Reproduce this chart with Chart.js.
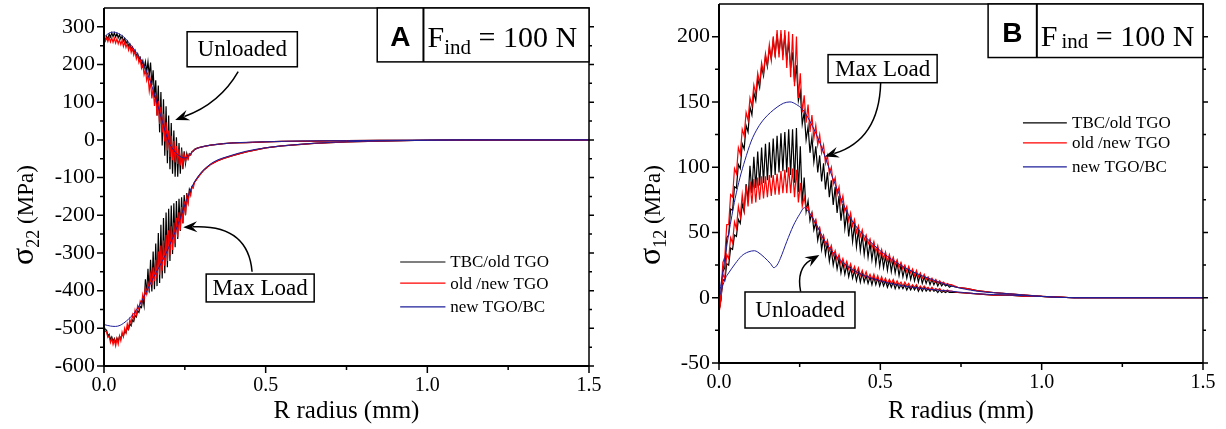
<!DOCTYPE html>
<html>
<head>
<meta charset="utf-8">
<script src="https://cdn.jsdelivr.net/npm/chart.js@4/dist/chart.umd.min.js"></script>
<style>
  html, body { margin: 0; padding: 0; background: #fff; }
  #wrap { position: relative; width: 1226px; height: 429px; }
  #wrap canvas { position: absolute; top: 0; }
  #cA { left: 0; }
  #cB { left: 610px; }
</style>
</head>
<body>
<div id="wrap">
  <canvas id="cA" width="610" height="429"></canvas>
  <canvas id="cB" width="616" height="429"></canvas>
</div>
<script>
// sigma22 / sigma12 along the interface, F_ind = 100 N
const SERIES = ['TBC/old TGO', 'old /new TGO', 'new TGO/BC'];
const COLORS = ['#000000', '#ff0000', '#1e1e9a'];
const R_TICKS = [0, 0.5, 1.0, 1.5];
const A_Y_TICKS = [-600, -500, -400, -300, -200, -100, 0, 100, 200, 300];
const B_Y_TICKS = [-50, 0, 50, 100, 150, 200];

// ---- panel A : sigma22 (MPa), FE nodes every 0.004 mm up to 0.28 mm ----
const A_STEP = 0.004;
const A_UNL_TBC = [270,264,275,268,281,273,284,274,284,273,282,271,279,268,275,262,269,256,262,249,
  254,241,246,231,237,222,228,213,219,200,210,190,208,180,207,172,205,145,185,112,
  158,65,144,20,127,-15,108,-42,89,-62,65,-78,45,-90,25,-98,7,-98,-8,-90,
  -20,-78,-30,-63,-36,-50,-37,-40,-31,-29,-25];
const A_UNL_OLD = [270,262,271,261,272,260,271,259,270,257,268,255,266,253,264,248,260,245,256,238,
  250,232,244,225,236,215,227,205,214,190,200,173,186,158,172,130,156,110,138,90,
  120,64,104,42,88,20,69,-4,47,-28,25,-45,11,-54,-3,-60,-16,-64,-25,-68,
  -35,-66,-40,-58,-41,-50,-37,-40,-31,-30,-26];
const A_MAX_TBC = [-495,-503,-505,-520,-516,-530,-523,-535,-527,-538,-526,-535,-521,-528,-515,-521,-507,-512,-498,-503,
  -488,-493,-478,-482,-466,-470,-454,-458,-442,-445,-420,-440,-370,-410,-342,-405,-318,-402,-296,-396,
  -275,-388,-247,-380,-225,-368,-207,-354,-193,-338,-183,-321,-174,-303,-168,-285,-162,-263,-156,-242,
  -152,-221,-146,-200,-141,-165,-131,-140,-123,-120,-112];
const A_MAX_OLD = [-500,-508,-510,-524,-520,-538,-527,-543,-531,-547,-528,-542,-520,-533,-510,-522,-500,-512,-488,-500,
  -476,-488,-464,-476,-452,-464,-440,-450,-428,-436,-410,-423,-392,-408,-380,-398,-358,-385,-338,-375,
  -318,-368,-296,-358,-280,-347,-267,-334,-252,-321,-240,-306,-229,-292,-219,-275,-207,-258,-192,-240,
  -178,-222,-163,-200,-152,-168,-138,-148,-125,-128,-113];
const A_TAIL_R = [0.29, 0.30, 0.31, 0.33, 0.35, 0.37, 0.40, 0.44, 0.50, 0.55, 0.65, 0.75, 0.85, 1.0, 1.2, 1.5];
const A_TAIL_UNL = [-21, -19, -17, -14, -12, -10, -8, -7, -5, -4, -3, -2, -1, -1, 0, 0];
const A_TAIL_MAX = [-100, -89, -79, -65, -56, -49, -41, -32, -21, -16, -9, -5, -3, -1, 0, 0];
const A_BC_UNL_R = [0, 0.01, 0.02, 0.03, 0.04, 0.06, 0.08, 0.10, 0.12, 0.14, 0.16, 0.18, 0.20, 0.22, 0.24, 0.25,
  0.26, 0.27, 0.28, 0.30, 0.33, 0.37, 0.42, 0.5, 0.6, 0.75, 0.9, 1.1, 1.5];
const A_BC_UNL = [272, 280, 285, 286, 284, 274, 255, 232, 205, 163, 110, 50, -5, -32, -46, -48,
  -44, -35, -27, -19, -14, -10, -7, -5, -3, -2, -1, 0, 0];
const A_BC_MAX_R = [0, 0.02, 0.035, 0.05, 0.07, 0.09, 0.11, 0.13, 0.15, 0.17, 0.19, 0.21, 0.23, 0.25,
  0.27, 0.29, 0.31, 0.34, 0.39, 0.44, 0.5, 0.55, 0.65, 0.75, 0.85, 1.0, 1.2, 1.5];
const A_BC_MAX = [-490, -494, -495, -492, -480, -463, -438, -405, -370, -338, -305, -265, -222, -172,
  -128, -98, -78, -58, -42, -30, -21, -16, -9, -5, -3, -1, 0, 0];

// ---- panel B : sigma12 (MPa), FE nodes every 0.006 mm up to 0.72 mm ----
const B_STEP = 0.006;
const B_MAX_TBC = [-10,-1,20,23,46,48,68,67,85,84,102,99,118,114,132,127,146,140,157,151,
  168,161,177,170,185,177,191,183,197,186,202,187,202,186,201,182,196,176,188,165,
  178,151,158,133,142,121,131,111,123,104,116,96,109,89,103,83,96,77,90,71,
  85,65,78,59,72,53,65,47,60,43,56,39,52,36,48,33,45,31,42,29,
  40,26,37,24,34,23,32,21,31,20,29,19,27,17,25,16,23,15,22,14,
  20,13,19,12,18,11,16,11,15,10,14,10,13,9,12,9,11,9,10,8,9];
const B_MAX_OLD = [-10,2,27,31,56,56,79,77,99,95,115,110,129,124,142,136,153,147,163,156,
  172,164,180,172,187,178,194,182,200,184,205,184,205,182,205,176,204,169,202,162,
  200,153,172,142,155,134,148,127,140,122,132,117,125,111,117,103,109,95,100,87,
  92,79,85,72,78,66,70,59,65,55,60,50,55,47,52,44,48,41,45,38,
  43,35,40,32,37,30,35,28,33,27,31,25,29,23,27,22,25,20,24,19,
  22,17,21,16,19,15,18,14,16,13,15,12,14,11,13,11,12,10,11,10,10];
const B_UNL_TBC = [-10,-1,14,13,26,25,38,37,48,47,60,57,72,66,87,75,101,80,108,84,
  112,86,115,88,118,90,119,92,122,94,124,96,126,97,127,96,129,94,129,88,
  130,81,116,72,92,66,74,59,65,52,58,44,52,37,46,33,42,28,37,25,
  33,22,30,19,27,18,25,16,23,15,21,13,20,12,19,12,17,11,16,10,
  16,10,15,9,14,9,13,8,12,8,12,7,11,7,10,7,10,6,9,6,
  9,6,9,5,8,5,8,5,7,5,7,5,6,4,6,4,5,4,5,4,4];
const B_UNL_OLD = [-12,-2,18,15,33,30,46,42,58,53,70,62,79,67,86,70,89,72,91,73,
  92,75,93,76,93,77,94,78,94,79,95,79,97,80,98,80,100,80,99,77,
  98,73,88,70,77,68,70,63,65,57,60,52,54,45,48,40,44,36,40,32,
  36,29,33,26,30,24,28,22,26,20,24,19,23,17,21,16,20,15,18,14,
  18,13,17,12,16,12,15,11,14,11,14,10,13,10,12,9,12,9,11,8,
  10,8,10,7,9,7,9,7,8,6,8,6,7,6,7,5,6,5,6,5,5];
const B_TAIL_R = [0.74, 0.77, 0.80, 0.85, 0.90, 0.95, 1.0, 1.05, 1.1, 1.2, 1.5];
const B_TAIL_MAX = [8, 7, 5.5, 4, 3, 2, 1, 0.5, 0, 0, 0];
const B_TAIL_UNL = [4, 3.5, 3, 2, 2, 1, 1, 0.5, 0, 0, 0];
const B_BC_MAX_R = [0, 0.01, 0.02, 0.03, 0.04, 0.05, 0.065, 0.08, 0.10, 0.12, 0.14, 0.16, 0.18, 0.20, 0.22, 0.24,
  0.26, 0.28, 0.30, 0.32, 0.34, 0.36, 0.38, 0.40, 0.43, 0.46, 0.50, 0.55, 0.60, 0.66, 0.72, 0.80, 0.90, 1.0, 1.1, 1.5];
const B_BC_MAX = [0, 17, 33, 49, 63, 76, 92, 105, 120, 130, 137, 142, 146, 149, 150, 148,
  144, 136, 126, 114, 100, 87, 75, 64, 53, 45, 36, 27, 20, 14, 9, 5, 3, 1, 0, 0];
const B_BC_UNL_R = [0, 0.01, 0.02, 0.03, 0.05, 0.07, 0.09, 0.11, 0.12, 0.14, 0.16, 0.17, 0.18, 0.19, 0.21, 0.23,
  0.25, 0.265, 0.28, 0.30, 0.32, 0.34, 0.36, 0.38, 0.41, 0.45, 0.50, 0.55, 0.60, 0.65, 0.72, 0.80, 0.90, 1.0, 1.1, 1.5];
const B_BC_UNL = [0, 8, 15, 19, 26, 32, 35, 36, 35, 31, 26, 23, 25, 30, 43, 55,
  64, 69, 65, 57, 47, 39, 33, 28, 22, 17, 13, 10, 8, 6.5, 5, 3, 2, 1, 0, 0];

const SERIF = "'Liberation Serif', 'Times New Roman', serif";
const SANS = "'Liberation Sans', Arial, sans-serif";

function onGrid(step, vals) { return vals.map((v, i) => ({ x: +(i * step).toFixed(4), y: v })); }
function pairs(rs, vals) { return rs.map((r, i) => ({ x: r, y: vals[i] })); }
function curve(points, k, smooth) {
  return {
    label: SERIES[k], data: points, showLine: true, fill: false,
    borderColor: COLORS[k], backgroundColor: COLORS[k],
    borderWidth: k === 2 ? 1 : 1.2, pointRadius: 0, tension: 0,
    cubicInterpolationMode: smooth ? 'monotone' : 'default'
  };
}

// first dataset is painted last, so blue sits on top of red on top of black
const dsA = [
  curve(pairs(A_BC_UNL_R, A_BC_UNL), 2, true),
  curve(pairs(A_BC_MAX_R, A_BC_MAX), 2, true),
  curve(onGrid(A_STEP, A_UNL_OLD).concat(pairs(A_TAIL_R, A_TAIL_UNL)), 1),
  curve(onGrid(A_STEP, A_MAX_OLD).concat(pairs(A_TAIL_R, A_TAIL_MAX)), 1),
  curve(onGrid(A_STEP, A_UNL_TBC).concat(pairs(A_TAIL_R, A_TAIL_UNL)), 0),
  curve(onGrid(A_STEP, A_MAX_TBC).concat(pairs(A_TAIL_R, A_TAIL_MAX)), 0)
];
const dsB = [
  curve(pairs(B_BC_MAX_R, B_BC_MAX), 2, true),
  curve(pairs(B_BC_UNL_R, B_BC_UNL), 2, true),
  curve(onGrid(B_STEP, B_MAX_OLD).concat(pairs(B_TAIL_R, B_TAIL_MAX)), 1),
  curve(onGrid(B_STEP, B_UNL_OLD).concat(pairs(B_TAIL_R, B_TAIL_UNL)), 1),
  curve(onGrid(B_STEP, B_MAX_TBC).concat(pairs(B_TAIL_R, B_TAIL_MAX)), 0),
  curve(onGrid(B_STEP, B_UNL_TBC).concat(pairs(B_TAIL_R, B_TAIL_UNL)), 0)
];

function yTitle(ctx, bx, cy, sub) {
  const parts = [['σ', '32px ' + SERIF, 0], [sub, '18px ' + SERIF, 6], [' (MPa)', '23px ' + SERIF, 0]];
  ctx.save();
  ctx.translate(bx, cy);
  ctx.rotate(-Math.PI / 2);
  let w = 0;
  parts.forEach(p => { ctx.font = p[1]; p.push(ctx.measureText(p[0]).width); w += p[3]; });
  let cx = -w / 2;
  ctx.textAlign = 'left'; ctx.textBaseline = 'alphabetic';
  parts.forEach(p => { ctx.font = p[1]; ctx.fillText(p[0], cx, p[2]); cx += p[3]; });
  ctx.restore();
}

function arrow(ctx, P, a) {
  const [sx, sy] = P(a.s), [cx, cy] = P(a.c), [ex, ey] = P(a.e);
  const ang = Math.atan2(ey - cy, ex - cx), L = 14, W = 5.5;
  const co = Math.cos(ang), si = Math.sin(ang);
  ctx.lineWidth = 1.5;
  ctx.beginPath();
  ctx.moveTo(sx, sy);
  ctx.quadraticCurveTo(cx, cy, ex - L * 0.7 * co, ey - L * 0.7 * si);
  ctx.stroke();
  ctx.beginPath();
  ctx.moveTo(ex, ey);
  ctx.lineTo(ex - L * co + W * si, ey - L * si - W * co);
  ctx.lineTo(ex - L * 0.65 * co, ey - L * 0.65 * si);
  ctx.lineTo(ex - L * co - W * si, ey - L * si + W * co);
  ctx.closePath();
  ctx.fill();
}

function decor(o) {
  return {
    id: 'decor',
    afterDatasetsDraw(chart) {
      const { ctx, chartArea: a, scales: { x, y } } = chart;
      const P = p => [x.getPixelForValue(p[0]), y.getPixelForValue(p[1])];
      const mids = t => t.slice(1).map((v, i) => (v + t[i]) / 2);
      ctx.save();
      ctx.strokeStyle = '#000'; ctx.fillStyle = '#000';

      // frame
      ctx.lineWidth = 1.5;
      ctx.beginPath(); ctx.moveTo(a.left, a.top); ctx.lineTo(a.right, a.top); ctx.lineTo(a.right, a.bottom); ctx.stroke();
      ctx.lineWidth = 2;
      ctx.beginPath(); ctx.moveTo(a.left, a.top); ctx.lineTo(a.left, a.bottom); ctx.lineTo(a.right, a.bottom); ctx.stroke();

      // tick marks, major and minor
      ctx.lineWidth = 1.5;
      ctx.beginPath();
      R_TICKS.forEach(t => { const p = x.getPixelForValue(t); ctx.moveTo(p, a.bottom); ctx.lineTo(p, a.bottom + 7); });
      mids(R_TICKS).forEach(t => { const p = x.getPixelForValue(t); ctx.moveTo(p, a.bottom); ctx.lineTo(p, a.bottom + 4); });
      o.yTicks.forEach(t => {
        const p = y.getPixelForValue(t);
        ctx.moveTo(a.left, p); ctx.lineTo(a.left - 7, p);
        ctx.moveTo(a.right, p); ctx.lineTo(a.right + 5, p);
      });
      mids(o.yTicks).forEach(t => {
        const p = y.getPixelForValue(t);
        ctx.moveTo(a.left, p); ctx.lineTo(a.left - 4, p);
        ctx.moveTo(a.right, p); ctx.lineTo(a.right + 3, p);
      });
      ctx.stroke();

      // axis titles
      ctx.font = '25px ' + SERIF; ctx.textAlign = 'center'; ctx.textBaseline = 'alphabetic';
      ctx.fillText('R radius (mm)', (a.left + a.right) / 2, 418);
      yTitle(ctx, o.yTitleX, o.yTitleY, o.sub);

      // legend
      ctx.font = '17px ' + SERIF; ctx.textAlign = 'left'; ctx.textBaseline = 'middle';
      SERIES.forEach((name, i) => {
        const [x0, yy] = P([o.legend.r0, o.legend.rows[i]]);
        const [x1] = P([o.legend.r1, 0]);
        const [xt] = P([o.legend.rText, 0]);
        ctx.strokeStyle = COLORS[i]; ctx.lineWidth = 1.2;
        ctx.beginPath(); ctx.moveTo(x0, yy); ctx.lineTo(x1, yy); ctx.stroke();
        ctx.fillStyle = '#000';
        ctx.fillText(name, xt, yy + 1);
      });
      ctx.strokeStyle = '#000';

      // load-state callouts
      o.notes.forEach(n => {
        const [x0, y0] = P([n.r0, n.v0]), [x1, y1] = P([n.r1, n.v1]);
        ctx.fillStyle = '#fff'; ctx.fillRect(x0, y0, x1 - x0, y1 - y0);
        ctx.lineWidth = 1.5; ctx.strokeRect(x0, y0, x1 - x0, y1 - y0);
        ctx.fillStyle = '#000';
        ctx.font = '23px ' + SERIF; ctx.textAlign = 'center'; ctx.textBaseline = 'middle';
        ctx.fillText(n.text, (x0 + x1) / 2, (y0 + y1) / 2 + 1);
        arrow(ctx, P, n.arrow);
      });

      // panel tag with the indentation load
      const t = o.tag;
      const [tx0, ty0] = P([t.r0, t.v0]), [tx1, ty1] = P([t.r1, t.v1]), [xd] = P([t.rDiv, 0]);
      ctx.fillStyle = '#fff'; ctx.fillRect(tx0, ty0, tx1 - tx0, ty1 - ty0);
      ctx.lineWidth = 1.5; ctx.strokeRect(tx0, ty0, tx1 - tx0, ty1 - ty0);
      ctx.lineWidth = 2; ctx.beginPath(); ctx.moveTo(xd, ty0); ctx.lineTo(xd, ty1); ctx.stroke();
      ctx.fillStyle = '#000'; ctx.textBaseline = 'alphabetic';
      ctx.font = 'bold 28px ' + SANS; ctx.textAlign = 'center';
      ctx.fillText(t.letter, (tx0 + xd) / 2, ty0 + t.letterBase);
      ctx.textAlign = 'left';
      let cx = xd + 4;
      ctx.font = '30px ' + SERIF; ctx.fillText('F', cx, ty0 + t.base); cx += ctx.measureText('F').width + t.gap;
      ctx.font = '21px ' + SERIF; ctx.fillText('ind', cx, ty0 + t.subBase); cx += ctx.measureText('ind').width;
      ctx.font = '30px ' + SERIF; ctx.fillText(' = 100 N', cx, ty0 + t.base);
      ctx.restore();
    }
  };
}

function panel(id, datasets, o) {
  return new Chart(document.getElementById(id), {
    type: 'scatter',
    data: { datasets },
    options: {
      responsive: false, animation: false, devicePixelRatio: 1,
      layout: { padding: { left: 0, top: o.padTop, right: o.padRight, bottom: 0 } },
      plugins: { legend: { display: false }, tooltip: { enabled: false } },
      scales: {
        x: {
          type: 'linear', min: 0, max: 1.5,
          grid: { display: false, drawTicks: false }, border: { display: false },
          afterBuildTicks: s => { s.ticks = R_TICKS.map(v => ({ value: v })); },
          afterFit: s => { s.height = o.xAxisH; s.paddingLeft = 0; s.paddingRight = 0; },
          ticks: { autoSkip: false, maxRotation: 0, padding: 8, color: '#000',
                   font: { family: SERIF, size: 20 }, callback: v => Number(v).toFixed(1) }
        },
        y: {
          type: 'linear', min: o.yMin, max: o.yMax,
          grid: { display: false, drawTicks: false }, border: { display: false },
          afterBuildTicks: s => { s.ticks = o.yTicks.map(v => ({ value: v })); },
          afterFit: s => { s.width = o.yAxisW; s.paddingTop = 0; s.paddingBottom = 0; },
          ticks: { autoSkip: false, padding: 9, color: '#000',
                   font: { family: SERIF, size: 22 }, callback: v => String(v) }
        }
      }
    },
    plugins: [decor(o)]
  });
}

panel('cA', dsA, {
  padTop: 8, padRight: 21, xAxisH: 63, yAxisW: 104,
  yMin: -600, yMax: 350, yTicks: A_Y_TICKS, sub: '22', yTitleX: 33, yTitleY: 215,
  legend: { r0: 0.916, r1: 1.056, rText: 1.071, rows: [-324, -380, -443] },
  notes: [
    { text: 'Unloaded', r0: 0.257, r1: 0.598, v0: 287, v1: 194,
      arrow: { s: [0.415, 181], c: [0.358, 96], e: [0.220, 53] } },
    { text: 'Max Load', r0: 0.316, r1: 0.650, v0: -356, v1: -430,
      arrow: { s: [0.458, -350], c: [0.446, -224], e: [0.245, -232] } }
  ],
  tag: { letter: 'A', r0: 0.845, r1: 1.5, v0: 350, v1: 207, rDiv: 0.988,
         letterBase: 38, base: 39, subBase: 46, gap: 0 }
});

panel('cB', dsB, {
  padTop: 4, padRight: 23, xAxisH: 66, yAxisW: 109,
  yMin: -50, yMax: 225, yTicks: B_Y_TICKS, sub: '12', yTitleX: 50, yTitleY: 215,
  legend: { r0: 0.942, r1: 1.078, rText: 1.094, rows: [134, 118.6, 100.2] },
  notes: [
    { text: 'Max Load', r0: 0.338, r1: 0.676, v0: 186.2, v1: 164.7,
      arrow: { s: [0.501, 164.5], c: [0.496, 121], e: [0.328, 108.2] } },
    { text: 'Unloaded', r0: 0.0806, r1: 0.4214, v0: 4.4, v1: -23.2,
      arrow: { s: [0.253, 4.7], c: [0.239, 22.3], e: [0.311, 32.8] } }
  ],
  tag: { letter: 'B', r0: 0.834, r1: 1.5, v0: 225, v1: 184, rDiv: 0.985,
         letterBase: 38, base: 42, subBase: 44, gap: 4 }
});
</script>
</body>
</html>
